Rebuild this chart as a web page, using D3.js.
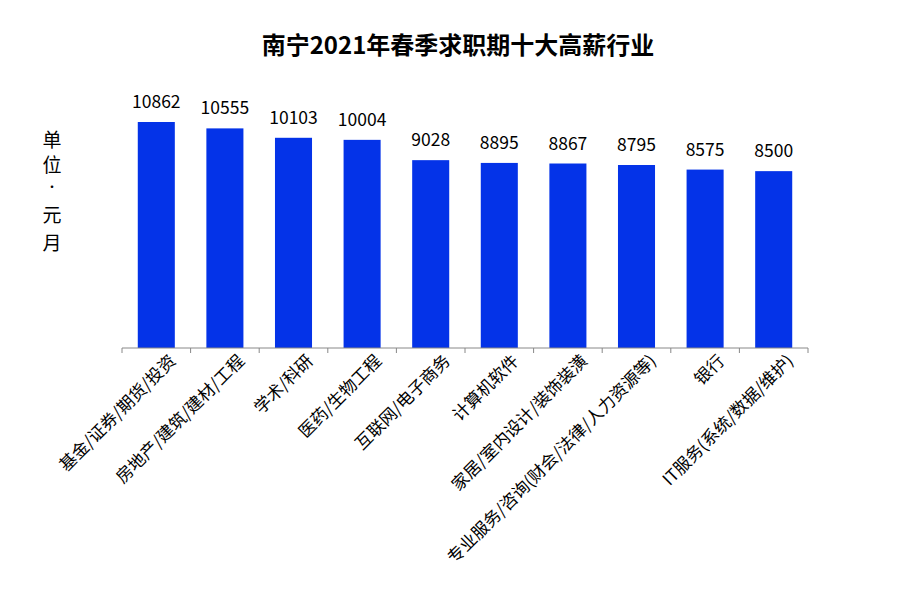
<!DOCTYPE html><html><head><meta charset="utf-8"><script src="https://cdn.jsdelivr.net/npm/d3@7"></script>
<style>body{margin:0;background:#fff}text{font-family:"Noto Sans CJK SC",sans-serif}</style></head><body><svg id="c" width="900" height="601"></svg><script>
const categories=["基金/证券/期货/投资","房地产/建筑/建材/工程","学术/科研","医药/生物工程","互联网/电子商务","计算机软件","家居/室内设计/装饰装潢","专业服务/咨询(财会/法律/人力资源等)","银行","IT服务(系统/数据/维护)"];
const values=[10862,10555,10103,10004,9028,8895,8867,8795,8575,8500];
const yLabelChars=["单","位","·","元","月"];
const svg=d3.select("#c");
const x=d3.scaleBand().domain(categories).range([122,808]).paddingInner(0.46).paddingOuter(0.23);
const y=d3.scaleLinear().domain([0,10862]).range([348,122]);
svg.append("text").attr("x",458).attr("y",54).attr("text-anchor","middle").attr("font-size",24).attr("font-weight","bold").text("南宁2021年春季求职期十大高薪行业");
svg.selectAll("rect").data(values).join("rect").attr("x",(d,i)=>x(categories[i])).attr("width",x.bandwidth()).attr("y",d=>y(d)).attr("height",d=>348-y(d)).attr("fill","#0433e8");
svg.selectAll(".v").data(values).join("text").attr("x",(d,i)=>x(categories[i])+x.bandwidth()/2).attr("y",d=>y(d)-14).attr("text-anchor","middle").attr("font-size",17.5).text(d=>d);
svg.append("line").attr("x1",122).attr("x2",808).attr("y1",348).attr("y2",348).attr("stroke","#888");
d3.range(11).forEach(i=>svg.append("line").attr("x1",122+i*(686/10)).attr("x2",122+i*(686/10)).attr("y1",348).attr("y2",353).attr("stroke","#888"));
categories.forEach((c,i)=>{const cx=x(c)+x.bandwidth()+2;
svg.append("text").attr("transform",`translate(${cx},362) rotate(-45)`).attr("text-anchor","end").attr("font-size",17).text(c);});
yLabelChars.forEach((ch,i)=>svg.append("text").attr("x",52).attr("y",[147,172,192,222,250][i]).attr("text-anchor","middle").attr("font-size",i==2?12:19).text(ch));
</script></body></html>
